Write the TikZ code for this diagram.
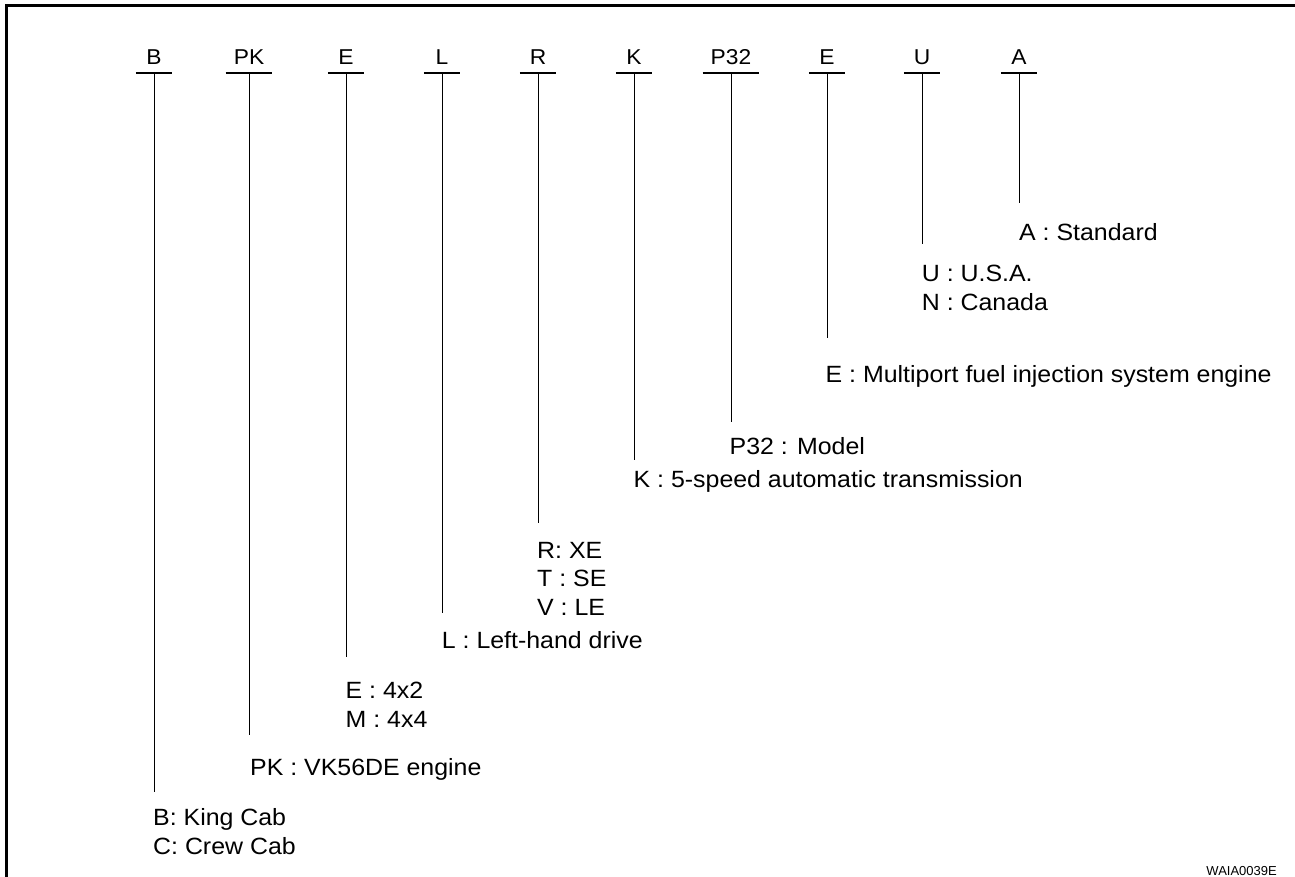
\documentclass[tikz,border=0pt]{standalone}
\usepackage{fontspec}
\setmainfont[FakeStretch=1.06]{Liberation Sans}
\newfontfamily\figfont{Liberation Sans}
\usetikzlibrary{positioning}

\begin{document}
\begin{tikzpicture}[
  x=1pt, y=-1pt,
  % frame lines
  frame/.style={line width=3pt},
  % code letter with its underline
  codeletter/.style={
    anchor=base, font=\fontsize{21.5}{24}\selectfont,
    minimum width=36pt, inner xsep=8pt, inner ysep=7.7pt, text depth=0pt
  },
  underline/.style={line width=1.6pt},
  % leader line down to the meaning
  lead/.style={line width=1pt},
  % meaning text
  meaning/.style={
    anchor=north west, inner sep=0pt, align=left,
    font=\fontsize{23.5}{28.7}\selectfont
  }
]
\path[use as bounding box] (0,0) rectangle (1295,877);

% ─── Frame (open to the right and bottom) ───────────────────────────────────
\draw[frame] (6.5,877) -- (6.5,5.5) -- (1295,5.5);

% ─── Code letters ───────────────────────────────────────────────────────────
\node[codeletter] (cB)   at (154,65)  {B};
\node[codeletter] (cPK)  at (249,65)  {PK};
\node[codeletter] (cE)   at (346,65)  {E};
\node[codeletter] (cL)   at (442,65)  {L};
\node[codeletter] (cR)   at (538,65)  {R};
\node[codeletter] (cK)   at (634,65)  {K};
\node[codeletter] (cP)   at (731,65)  {P32};
\node[codeletter] (cEng) at (827,65)  {E};
\node[codeletter] (cU)   at (922,65)  {U};
\node[codeletter] (cA)   at (1019,65) {A};

\foreach \c in {cB,cPK,cE,cL,cR,cK,cP,cEng,cU,cA}
  \draw[underline] (\c.south west) -- (\c.south east);

% ─── Meanings ───────────────────────────────────────────────────────────────
\node[meaning] (mB)   at (153,808.3)  {B: King Cab\\C: Crew Cab};
\node[meaning] (mPK)  at (250,758.3)  {PK : VK56DE engine};
\node[meaning] (mE)   at (345.5,681.7) {E : 4x2\\M : 4x4};
\node[meaning] (mL)   at (441.7,631.7) {L : Left-hand drive};
\node[meaning] (mR)   at (537,541.7)  {R: XE\\T : SE\\V : LE};
\node[meaning] (mK)   at (633.5,470.7) {K : 5-speed automatic transmission};
\node[meaning] (mP)   at (729.5,437.3) {P32 : Model};
\node[meaning] (mEng) at (825.5,365)  {E : Multiport fuel injection system engine};
\node[meaning] (mU)   at (921.7,265)  {U : U.S.A.\\N : Canada};
\node[meaning] (mA)   at (1019,223)   {A : Standard};

% ─── Leader lines ───────────────────────────────────────────────────────────
\coordinate (eB)   at (154,791.7);
\coordinate (ePK)  at (249,735);
\coordinate (eE)   at (346,656.7);
\coordinate (eL)   at (442,613.3);
\coordinate (eR)   at (538,523.3);
\coordinate (eK)   at (634,460);
\coordinate (eP)   at (731,421.7);
\coordinate (eEng) at (827,338);
\coordinate (eU)   at (922,244.3);
\coordinate (eA)   at (1019,202.7);

\foreach \c/\e in {cB/eB,cPK/ePK,cE/eE,cL/eL,cR/eR,cK/eK,cP/eP,cEng/eEng,cU/eU,cA/eA}
  \draw[lead] (\c.south) -- (\e);

% figure id
\node[anchor=base east, inner sep=0pt, font=\figfont\fontsize{13}{15}\selectfont]
  (figid) at (1277,875) {WAIA0039E};

\end{tikzpicture}
\end{document}
